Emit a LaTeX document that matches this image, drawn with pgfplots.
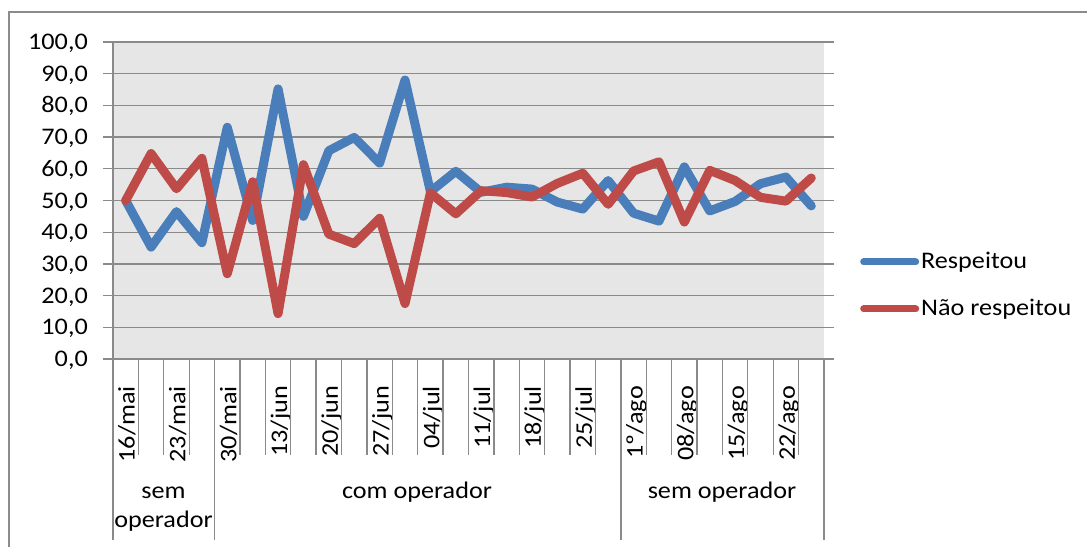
\documentclass[border=0pt]{standalone}
\usepackage{pgfplots}
\pgfplotsset{compat=1.18}
\usepackage{fontspec}
\setmainfont{Carlito}[FakeStretch=1.1]
\definecolor{resp}{HTML}{4A7EBB}
\definecolor{naor}{HTML}{BE4B48}
\definecolor{plotbg}{HTML}{E6E6E6}
\definecolor{gridc}{HTML}{8A8A8A}
\definecolor{framec}{HTML}{8C8C8C}
\begin{document}
\fontsize{23.8}{28}\selectfont
\begin{tikzpicture}[x=1pt,y=1pt]
\useasboundingbox (0,0) rectangle (1087,547);
\fill[white] (0,0) rectangle (1087,547);
\draw[framec, line width=2pt] (9,0) -- (9,535) -- (1087,535);
\begin{axis}[
  at={(113pt,188pt)}, anchor=south west,
  scale only axis, width=711pt, height=317pt,
  xmin=-0.5, xmax=27.5, ymin=0, ymax=100,
  axis background/.style={fill=plotbg},
  axis line style={draw=none},
  ymajorgrids, grid style={gridc, line width=1.3pt},
  ytick={0,10,...,100},
  tick align=outside, major tick length=10pt,
  ytick style={gridc, line width=1.3pt},
  xtick={0,2,...,26},
  xticklabels={16/mai,23/mai,30/mai,13/jun,20/jun,27/jun,04/jul,11/jul,18/jul,25/jul,1º/ago,08/ago,15/ago,22/ago},
  xtick style={draw=none},
  xticklabel style={inner sep=0pt, xshift=9pt, yshift=-17pt, rotate=90, anchor=base east},
  yticklabel style={inner sep=0pt, anchor=base east, xshift=-15pt, yshift=-7.5pt},
  /pgf/number format/fixed, /pgf/number format/fixed zerofill,
  /pgf/number format/precision=1, /pgf/number format/use comma,
  /pgf/number format/assume math mode=true,
  legend style={at={(rel axis cs:1.0506,0.232)}, anchor=west, draw=none, fill=none,
    row sep=23pt, inner sep=0pt},
  legend cell align=left,
  legend image code/.code={\draw[#1, line width=7pt, line cap=round] (0pt,0pt) -- (52pt,0pt);},
  every axis plot/.append style={line width=9pt, line join=round, line cap=round},
]
\addplot[resp] coordinates {
(0,50.0) (1,35.3) (2,46.5) (3,36.7) (4,73.1) (5,43.7) (6,85.2) (7,45.0)
(8,65.7) (9,69.9) (10,61.8) (11,88.0) (12,52.8) (13,59.2) (14,52.6) (15,54.2)
(16,53.6) (17,49.5) (18,47.3) (19,56.3) (20,46.0) (21,43.5) (22,60.6) (23,46.7)
(24,49.7) (25,55.3) (26,57.4) (27,48.3)};
\addlegendentry{Respeitou}
\addplot[naor] coordinates {
(0,50.0) (1,64.8) (2,53.7) (3,63.3) (4,26.9) (5,55.9) (6,14.3) (7,61.3)
(8,39.4) (9,36.4) (10,44.4) (11,17.5) (12,52.4) (13,45.8) (14,53.1) (15,52.5)
(16,51.1) (17,55.4) (18,58.6) (19,48.8) (20,59.3) (21,62.2) (22,43.2) (23,59.5)
(24,56.3) (25,51.0) (26,49.8) (27,57.1)};
\addlegendentry{Não respeitou}
\end{axis}
\draw[gridc, line width=1.3pt] (113,188) -- (113,505);
\foreach \k in {0,...,28} \draw[gridc, line width=1.3pt] ({113+25.3929*\k},188) -- ({113+25.3929*\k},92);
\foreach \k in {0,4,20,28} \draw[gridc, line width=1.3pt] ({113+25.3929*\k},92) -- ({113+25.3929*\k},7);
\node[anchor=base, inner sep=0pt] at (163.5,49) {sem};
\node[anchor=base, inner sep=0pt] at (163.5,20) {operador};
\node[anchor=base, inner sep=0pt] at (417,49) {com operador};
\node[anchor=base, inner sep=0pt] at (722,49) {sem operador};
\end{tikzpicture}
\end{document}
